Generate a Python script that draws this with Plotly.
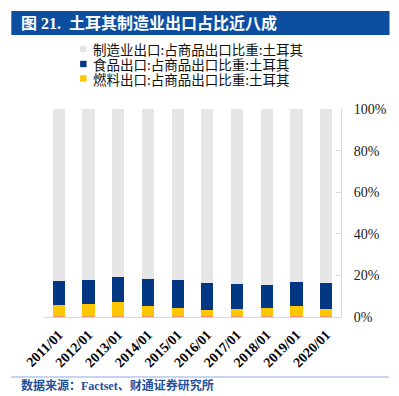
import plotly.graph_objects as go

categories = ["2011/01", "2012/01", "2013/01", "2014/01", "2015/01",
              "2016/01", "2017/01", "2018/01", "2019/01", "2020/01"]
other_share = [0.6, 0.6, 0.6, 0.6, 0.6, 0.6, 0.6, 0.6, 0.6, 0.6]
fuel_share = [5.2, 5.8, 6.8, 4.7, 3.7, 2.6, 3.1, 3.6, 4.8, 3.1]
food_share = [11.3, 11.4, 11.8, 12.8, 13.3, 13.1, 12.3, 11.3, 11.6, 12.6]
manuf_share = [82.9, 82.2, 80.8, 81.9, 82.4, 83.7, 84.0, 84.5, 83.0, 83.7]
yticks = [0, 20, 40, 60, 80, 100]
ytick_text = ["0%", "20%", "40%", "60%", "80%", "100%"]

names = ["制造业出口:占商品出口比重:土耳其",
         "食品出口:占商品出口比重:土耳其",
         "燃料出口:占商品出口比重:土耳其"]
title_text = "图 21.  土耳其制造业出口占比近八成"
source_text = "数据来源：Factset、财通证券研究所"

C_GRAY = "#E6E6E6"
C_BLUE = "#023883"
C_YELLOW = "#FFC700"
C_ORANGE = "#EE9466"

# the page body adds an 8px margin; the figure is sized to fill the rest
OFF = 8
W, H = 399 - OFF, 396 - OFF
L, R, T, B = 44 - OFF, 55, 109 - OFF, 79
PW, PH = W - L - R, H - T - B


def fx(px):
    return (px - OFF - L) / PW


def fy(py):
    return (H - B - (py - OFF)) / PH


fig = go.Figure()
fig.add_bar(x=categories, y=other_share, marker_color=C_ORANGE, showlegend=False)
fig.add_bar(x=categories, y=fuel_share, marker_color=C_YELLOW, name=names[2], showlegend=False)
fig.add_bar(x=categories, y=food_share, marker_color=C_BLUE, name=names[1], showlegend=False)
fig.add_bar(x=categories, y=manuf_share, marker_color=C_GRAY, name=names[0], showlegend=False)
fig.update_traces(marker_line_width=0)

shapes = []
annotations = []

# title bar
shapes.append(dict(type="rect", xref="paper", yref="paper",
                   x0=fx(11), x1=fx(393), y0=fy(11), y1=fy(35),
                   fillcolor="#0C4E9F", line_width=0, layer="below"))
annotations.append(dict(text="<b>" + title_text + "</b>", xref="paper", yref="paper",
                        x=fx(19), y=fy(23), xanchor="left", yanchor="middle",
                        showarrow=False,
                        font=dict(family="Liberation Serif, Noto Sans CJK SC", size=16, color="white")))

# legend (manual)
leg_colors = [C_GRAY, C_BLUE, C_YELLOW]
leg_rows = [49, 64, 78.5]
for nm, col, yc in zip(names, leg_colors, leg_rows):
    shapes.append(dict(type="rect", xref="paper", yref="paper",
                       x0=fx(80.5), x1=fx(87), y0=fy(yc - 3.2), y1=fy(yc + 3.2),
                       fillcolor=col, line_width=0))
    annotations.append(dict(text=nm, xref="paper", yref="paper",
                            x=fx(91), y=fy(yc), xanchor="left", yanchor="middle",
                            showarrow=False,
                            font=dict(family="Noto Sans CJK SC", size=13.5, color="#111111")))

# footer
shapes.append(dict(type="line", xref="paper", yref="paper",
                   x0=fx(11), x1=fx(392), y0=fy(377), y1=fy(377),
                   line=dict(color="#8FAADC", width=1.2)))
annotations.append(dict(text="<b>" + source_text + "</b>", xref="paper", yref="paper",
                        x=fx(19), y=fy(385.5), xanchor="left", yanchor="middle",
                        showarrow=False,
                        font=dict(family="Liberation Serif, Noto Sans CJK SC", size=12, color="#1F4E9A")))

fig.update_layout(
    width=W, height=H,
    margin=dict(l=L, r=R, t=T, b=B),
    paper_bgcolor="white", plot_bgcolor="white",
    barmode="stack", bargap=0.59,
    shapes=shapes, annotations=annotations,
    showlegend=False,
    xaxis=dict(range=[-0.5, 9.5], showline=True, linecolor="#D9D9D9", linewidth=1,
               tickangle=-45, ticks="", showgrid=False,
               tickfont=dict(family="Liberation Serif", size=14, color="#000000"),
               tickprefix="<b>", ticksuffix="</b>", ticklabelstandoff=3),
    yaxis=dict(range=[0, 100], side="right", showline=True, linecolor="#D9D9D9",
               linewidth=1, ticks="inside", ticklen=5, tickcolor="#D9D9D9",
               tickvals=yticks, ticktext=ytick_text, showgrid=False, zeroline=False,
               tickfont=dict(family="Liberation Serif", size=14, color="#222222"),
               ticklabelstandoff=9),
)

fig.write_html("out.html")
